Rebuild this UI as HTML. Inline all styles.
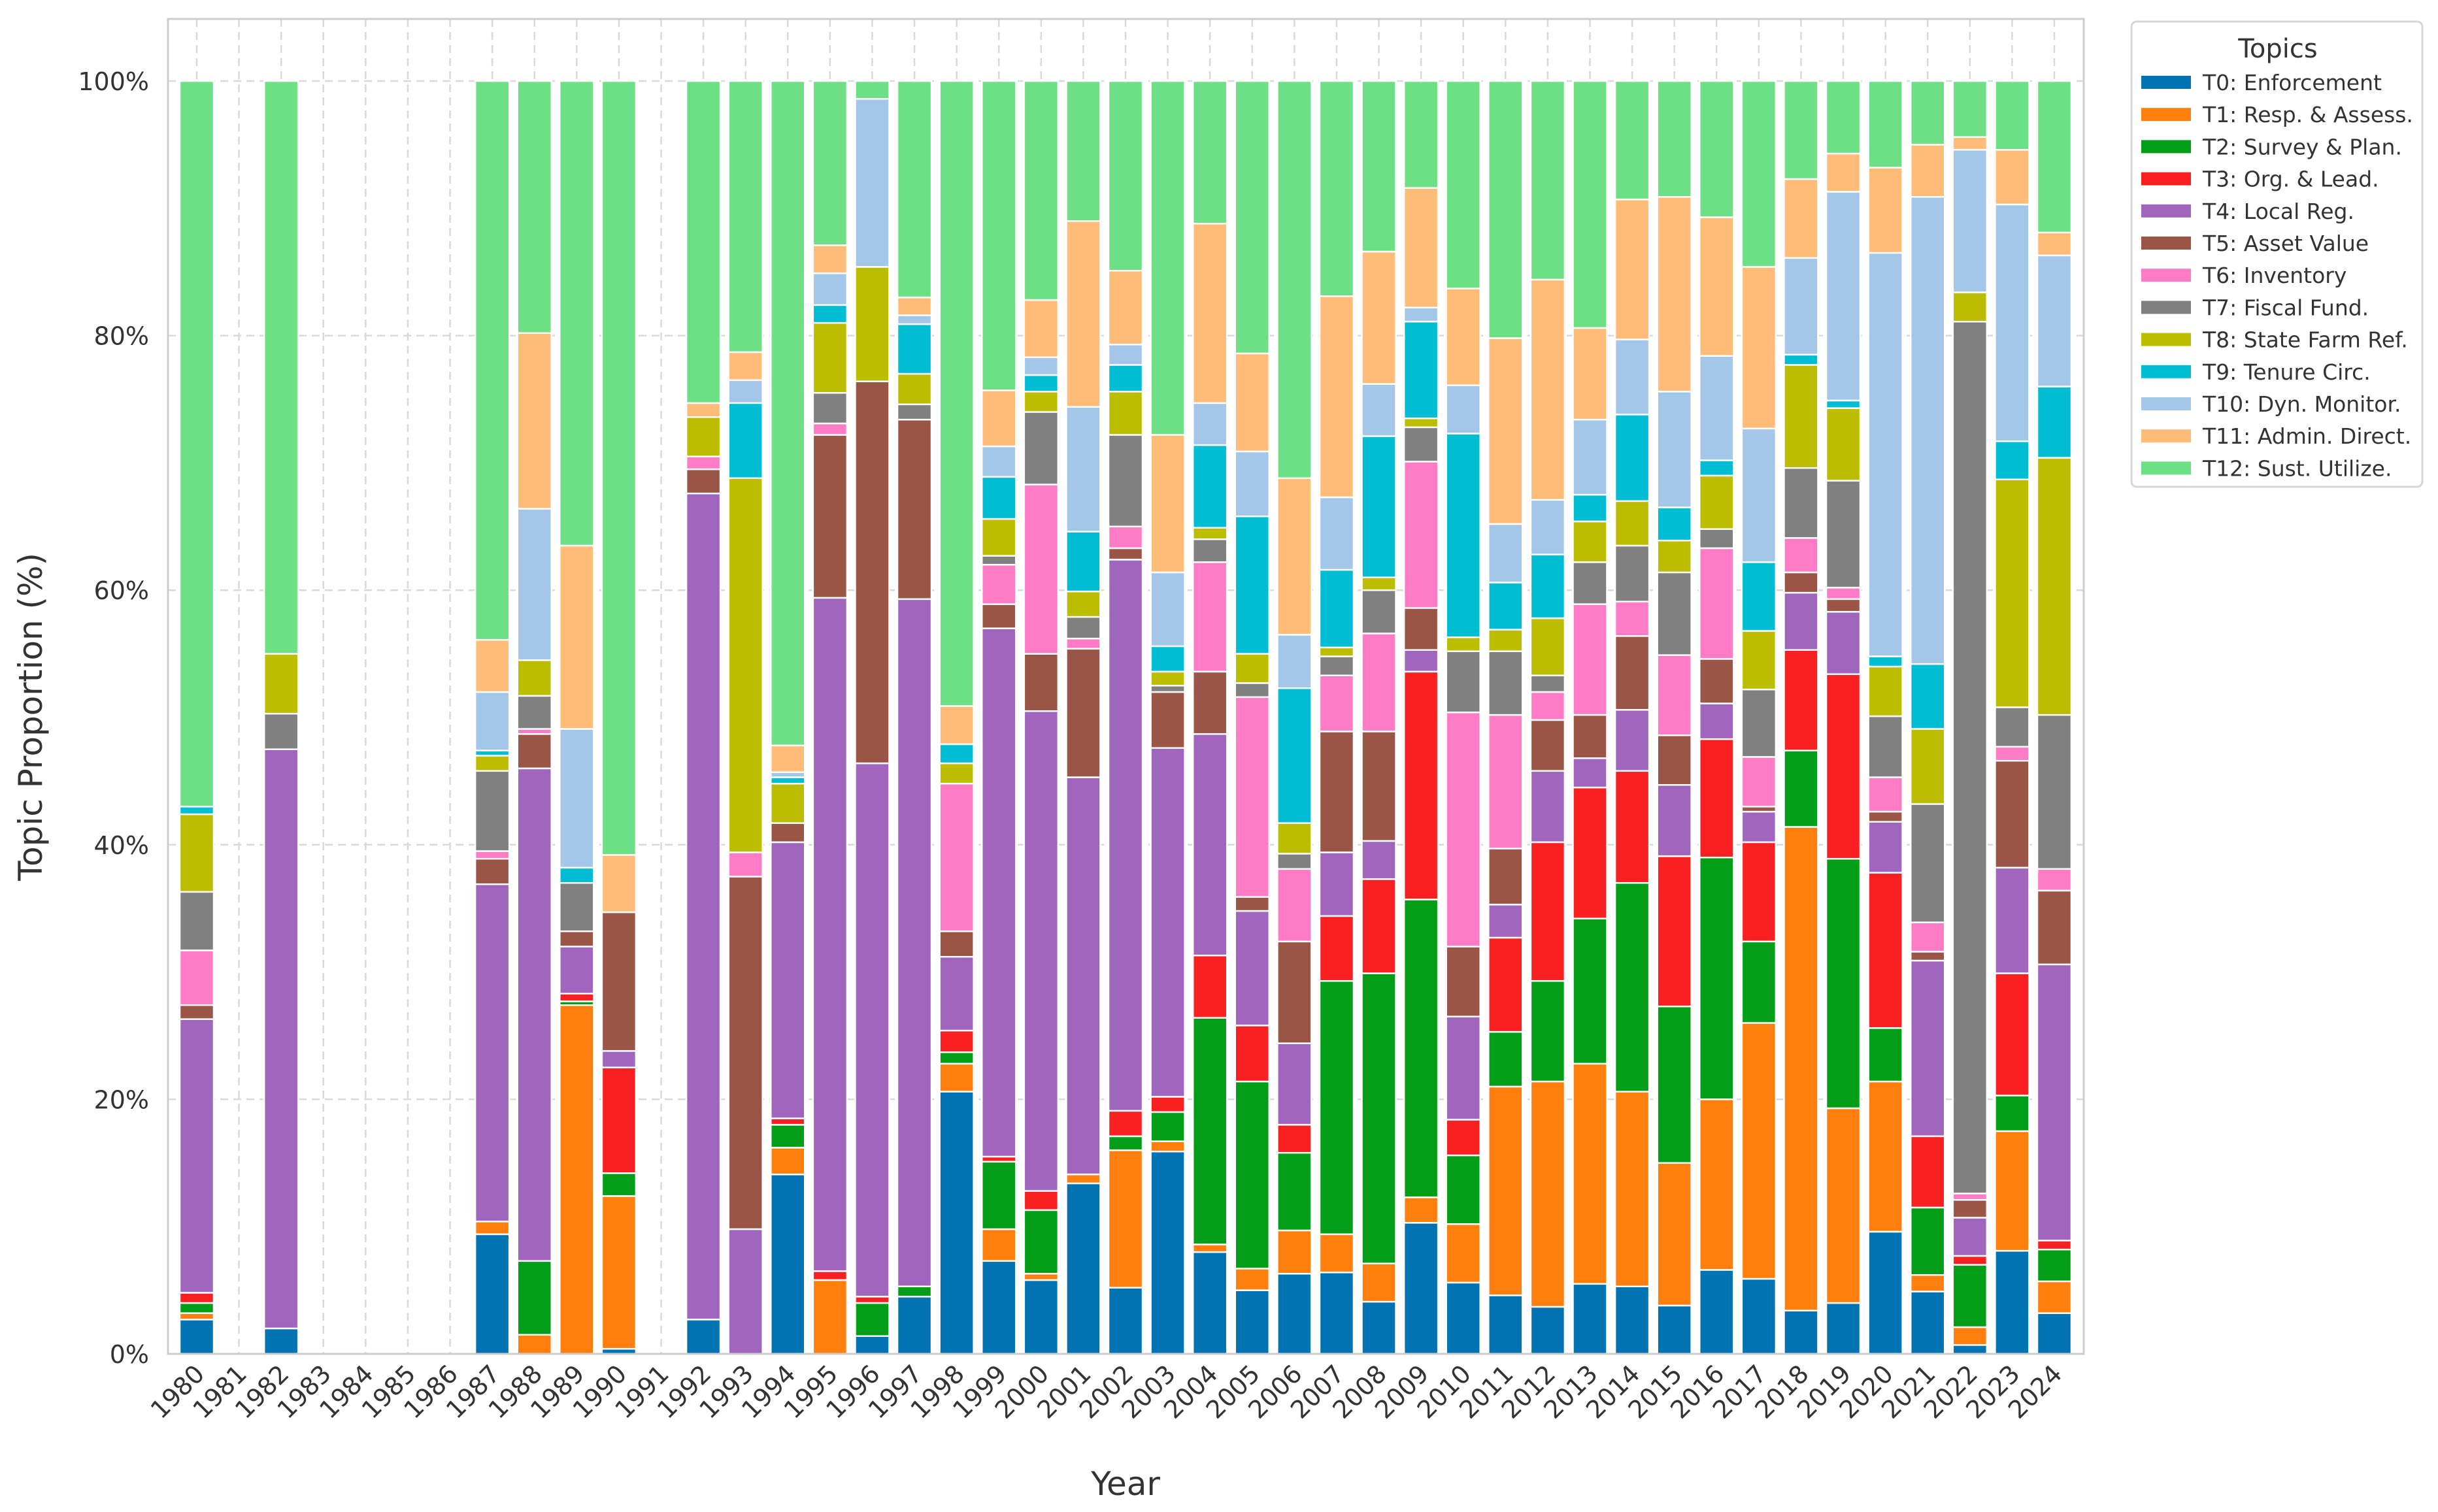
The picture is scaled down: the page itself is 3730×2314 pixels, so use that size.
<!DOCTYPE html>
<html><head><meta charset="utf-8"><style>
html,body{margin:0;padding:0;background:#fff;}
svg{display:block;font-family:"DejaVu Sans","Liberation Sans",sans-serif;}
</style></head><body>
<svg id="chart" width="3730" height="2314" viewBox="0 0 3730 2314" xmlns="http://www.w3.org/2000/svg">
<rect x="0" y="0" width="3730" height="2314" fill="#fff"/>
<g id="grid"></g>
<g id="bars"></g>
<rect x="257" y="29" width="2931" height="2043" fill="none" stroke="#cccccc" stroke-width="3"/>
<g id="yticks"></g>
<g id="xticks"></g>
<text x="0" y="0" transform="translate(64,1097) rotate(-90)" text-anchor="middle" font-size="50" fill="#333">Topic Proportion (%)</text>
<text x="1722" y="2288" text-anchor="middle" font-size="50" fill="#333">Year</text>
<g id="legend">
<rect x="3261" y="33" width="445" height="712" rx="8" fill="#fff" stroke="#d6d6d6" stroke-width="3"/>
<text x="3485" y="88" text-anchor="middle" font-size="40" fill="#333">Topics</text>
</g>
</svg>
<script>
const years = ["1980","1981","1982","1983","1984","1985","1986","1987","1988","1989","1990","1991","1992","1993","1994","1995","1996","1997","1998","1999","2000","2001","2002","2003","2004","2005","2006","2007","2008","2009","2010","2011","2012","2013","2014","2015","2016","2017","2018","2019","2020","2021","2022","2023","2024"];
const topicNames = ["T0: Enforcement","T1: Resp. & Assess.","T2: Survey & Plan.","T3: Org. & Lead.","T4: Local Reg.","T5: Asset Value","T6: Inventory","T7: Fiscal Fund.","T8: State Farm Ref.","T9: Tenure Circ.","T10: Dyn. Monitor.","T11: Admin. Direct.","T12: Sust. Utilize."];
const topicColors = ["#0173b2","#ff7f0e","#029e18","#f82020","#a065bd","#9b5547","#ff7bc6","#808080","#bcbd00","#00bdd4","#a4c6e9","#ffbb78","#6ddf85"];
const yTicks = [0,20,40,60,80,100];
const t0 = [2.7,0,2.0,0,0,0,0,9.4,0,0,0.4,0,2.7,0,14.1,0,1.4,4.5,20.6,7.3,5.8,13.4,5.2,15.9,8.0,5.0,6.3,6.4,4.1,10.3,5.6,4.6,3.7,5.5,5.3,3.8,6.6,5.9,3.4,4.0,9.6,4.9,0.7,8.1,3.2];
const t1 = [0.5,0,0,0,0,0,0,1.0,1.5,27.4,12.0,0,0,0,2.1,5.8,0,0,2.2,2.5,0.5,0.7,10.8,0.8,0.6,1.7,3.4,3.0,3.0,2.0,4.6,16.4,17.7,17.3,15.3,11.2,13.4,20.1,38.0,15.3,11.8,1.3,1.4,9.4,2.5];
const t2 = [0.8,0,0,0,0,0,0,0,5.8,0.3,1.8,0,0,0,1.8,0,2.6,0.8,0.9,5.3,5.0,0,1.1,2.3,17.8,14.7,6.1,19.9,22.8,23.4,5.4,4.3,7.9,11.4,16.4,12.3,19.0,6.4,6.0,19.6,4.2,5.3,4.9,2.8,2.5];
const t3 = [0.8,0,0,0,0,0,0,0,0,0.6,8.3,0,0,0,0.5,0.7,0.5,0,1.7,0.4,1.5,0,2.0,1.2,4.9,4.4,2.2,5.1,7.4,17.9,2.8,7.4,10.9,10.3,8.8,11.8,9.3,7.8,7.9,14.5,12.2,5.6,0.7,9.6,0.7];
const t4 = [21.5,0,45.5,0,0,0,0,26.5,38.7,3.7,1.3,0,64.9,9.8,21.7,52.9,41.9,54.0,5.8,41.5,37.7,31.2,43.3,27.4,17.4,9.0,6.4,5.0,3.0,1.7,8.1,2.6,5.6,2.3,4.8,5.6,2.8,2.4,4.5,4.9,4.0,13.8,3.0,8.3,21.7];
const t5 = [1.1,0,0,0,0,0,0,2.0,2.7,1.2,10.9,0,1.9,27.7,1.5,12.8,30.0,14.1,2.0,1.9,4.5,10.1,0.9,4.4,4.9,1.1,8.0,9.5,8.6,3.3,5.5,4.4,4.0,3.4,5.8,3.9,3.5,0.4,1.6,1.0,0.8,0.7,1.4,8.4,5.8];
const t6 = [4.3,0,0,0,0,0,0,0.6,0.4,0,0,0,1.0,1.9,0,0.9,0,0,11.6,3.1,13.3,0.8,1.7,0,8.6,15.7,5.7,4.4,7.7,11.5,18.4,10.5,2.2,8.7,2.7,6.3,8.7,3.9,2.7,0.9,2.7,2.3,0.5,1.1,1.7];
const t7 = [4.6,0,2.8,0,0,0,0,6.3,2.6,3.8,0,0,0,0,0,2.4,0,1.2,0,0.7,5.7,1.7,7.2,0.5,1.8,1.1,1.2,1.5,3.4,2.7,4.8,5.0,1.3,3.3,4.4,6.5,1.5,5.3,5.5,8.4,4.8,9.3,68.5,3.1,12.1];
const t8 = [6.1,0,4.7,0,0,0,0,1.2,2.8,0,0,0,3.1,29.4,3.1,5.5,9.0,2.4,1.6,2.9,1.6,2.0,3.4,1.1,0.9,2.3,2.4,0.7,1.0,0.7,1.1,1.7,4.5,3.2,3.5,2.5,4.2,4.6,8.1,5.7,3.9,5.9,2.3,17.9,20.2];
const t9 = [0.6,0,0,0,0,0,0,0.4,0,1.2,0,0,0,5.9,0.5,1.4,0,3.9,1.5,3.3,1.3,4.7,2.1,2.0,6.5,10.8,10.6,6.1,11.1,7.6,16.0,3.7,5.0,2.1,6.8,2.6,1.2,5.4,0.8,0.6,0.8,5.1,0,3.0,5.6];
const t10 = [0,0,0,0,0,0,0,4.6,11.9,10.9,0,0,0,1.8,0.4,2.5,13.2,0.7,0,2.4,1.4,9.8,1.6,5.8,3.3,5.1,4.2,5.7,4.1,1.1,3.8,4.6,4.3,5.9,5.9,9.1,8.2,10.5,7.6,16.4,31.7,36.7,11.2,18.6,10.3];
const t11 = [0,0,0,0,0,0,0,4.1,13.8,14.4,4.5,0,1.1,2.2,2.1,2.2,0,1.4,3.0,4.4,4.5,14.6,5.8,10.8,14.1,7.7,12.3,15.8,10.4,9.4,7.6,14.6,17.3,7.2,11.0,15.3,10.9,12.7,6.2,3.0,6.7,4.1,1.0,4.3,1.8];
const t12 = [57.0,0,45.0,0,0,0,0,43.9,19.8,36.5,60.8,0,25.3,21.3,52.2,12.9,1.4,17.0,49.1,24.3,17.2,11.0,14.9,27.8,11.2,21.4,31.2,16.9,13.4,8.4,16.3,20.2,15.6,19.4,9.3,9.1,10.7,14.6,7.7,5.7,6.8,5.0,4.4,5.4,11.9];
const series = [t0,t1,t2,t3,t4,t5,t6,t7,t8,t9,t10,t11,t12];

const NS = "http://www.w3.org/2000/svg";
const X0 = 301, XSTEP = (3143 - 301) / 44, BARW = 52;
const Y0 = 2072, Y100 = 124;
function xScale(i){ return X0 + i * XSTEP; }
function yScale(v){ return Y0 - (Y0 - Y100) * v / 100; }
function mk(tag, attrs, parent){ const e = document.createElementNS(NS, tag); for (const k in attrs) e.setAttribute(k, attrs[k]); parent.appendChild(e); return e; }

const grid = document.getElementById('grid');
yTicks.forEach(t => {
  const l = mk('line', {x1:257, x2:3188, y1:yScale(t), y2:yScale(t), stroke:'#d9d9d9', 'stroke-width':2.5, 'stroke-dasharray':'12 8'}, grid);
  
  
});
years.forEach((y, i) => {
  const l = mk('line', {x1:xScale(i), x2:xScale(i), y1:29, y2:Y0, stroke:'#d9d9d9', 'stroke-width':2.5, 'stroke-dasharray':'12 8'}, grid);
  
  
});

const bars = document.getElementById('bars');
years.forEach((yr, i) => {
  let cum = 0;
  series.forEach((s, k) => {
    const v = s[i];
    if (v <= 0) return;
    const yTop = yScale(cum + v), yBot = yScale(cum);
    const r = mk('rect', {x:xScale(i) - BARW/2, y:yTop, width:BARW, height:yBot - yTop, fill:topicColors[k], stroke:'#fff', 'stroke-width':2.5}, bars);
    
    
    cum += v;
  });
});

const yt = document.getElementById('yticks');
yTicks.forEach(t => {
  const tx = mk('text', {x:228, y:yScale(t) + 14, 'text-anchor':'end', 'font-size':38, fill:'#333'}, yt);
  tx.textContent = t + '%';
  
  
});
const xt = document.getElementById('xticks');
years.forEach((y, i) => {
  const tx = mk('text', {x:0, y:0, 'text-anchor':'end', 'font-size':38, fill:'#333', transform:'translate(' + (xScale(i) + 14) + ',2105) rotate(-45)'}, xt);
  tx.textContent = y;
  
  
});

const lg = document.getElementById('legend');
topicNames.forEach((n, k) => {
  const cy = 126 + k * 49.2;
  const p = mk('rect', {x:3276, y:cy - 10, width:76, height:20, fill:topicColors[k]}, lg);
  
  
  const t = mk('text', {x:3370, y:cy + 12, 'font-size':33, fill:'#333'}, lg);
  t.textContent = n;
  
  
});
</script>
</body></html>
